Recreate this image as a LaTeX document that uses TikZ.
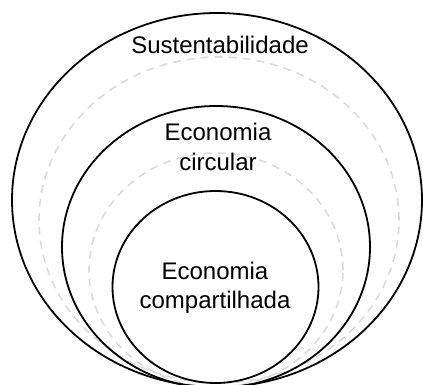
\documentclass[tikz,border=0pt]{standalone}
\usepackage{fontspec}
\setmainfont{Liberation Sans}
\usepackage{tikz}

\begin{document}
\begin{tikzpicture}[
  x=1pt, y=-1pt,
  ring/.style={draw=black, line width=1.8pt},
  guide/.style={draw=black!14, line width=1.6pt, dash pattern=on 8pt off 6pt},
  lbl/.style={align=center, font=\fontsize{24}{29.5}\selectfont}
]
  \useasboundingbox (0,0) rectangle (423,385);
  \clip (0,0) rectangle (423,385);

  % dashed guides between the rings
  \draw[guide] (219,220) ellipse [x radius=180pt, y radius=163pt];
  \draw[guide] (216,270) ellipse [x radius=127pt, y radius=117pt];

  % rings, all touching at the bottom
  \draw[ring] (217,200) ellipse [x radius=205pt, y radius=187pt];
  \draw[ring] (216,247) ellipse [x radius=154pt, y radius=141pt];
  \draw[ring] (215.5,287) ellipse [x radius=103pt, y radius=96pt];

  \node[lbl] (sust) at (220,45) {Sustentabilidade};
  \node[lbl] (circ) at (218,147) {Economia\\circular};
  \node[lbl] (comp) at (215,288) {Economia\\compartilhada};
\end{tikzpicture}
\end{document}
